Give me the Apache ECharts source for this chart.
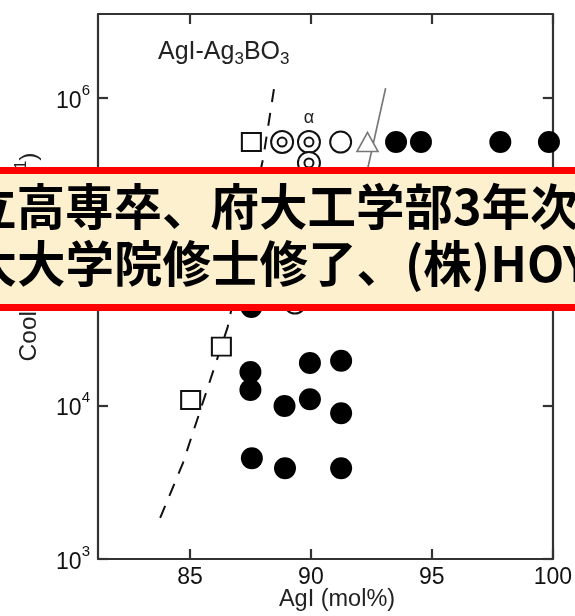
<!DOCTYPE html>
<html><head><meta charset="utf-8">
<script src="https://cdn.jsdelivr.net/npm/echarts@6/dist/echarts.min.js"></script>
<style>html,body{margin:0;padding:0;background:#fff}#c{width:575px;height:616px}</style>
</head><body><div id="c"></div>
<script>
// ---- data ----
const xTicks = [85, 90, 95, 100];
const yTicks = [1e3, 1e4, 1e5, 1e6];
const openSquares = [[87.54, 5.17e5], [86.30, 2.41e4], [85.03, 1.083e4]];
const doubleCircles = [[88.81, 5.17e5], [89.92, 5.17e5], [89.92, 3.78e5]];
const doubleCircleLabels = ['', 'α', ''];
const openCircles = [[91.23, 5.17e5], [89.34, 4.63e4]];
const openTriangles = [[92.34, 5.17e5]];
const filledCircles = [
  [93.52, 5.17e5], [94.55, 5.17e5], [97.83, 5.17e5], [99.84, 5.17e5],
  [87.54, 4.37e4],
  [87.50, 1.65e4], [87.50, 1.26e4], [89.96, 1.886e4], [91.25, 1.95e4],
  [88.91, 9.9e3], [89.96, 1.094e4], [91.25, 8.87e3],
  [87.56, 4.52e3], [88.93, 3.89e3], [91.25, 3.89e3]
];
const dashedBoundary = [[83.77, 1850], [84.71, 4210], [86.56, 3.23e4], [88.03, 4.07e5], [88.48, 1.16e6]];
const solidBoundary = [[91.92, 1.73e5], [93.09, 1.16e6]];
const bannerLine1 = '立高専卒、府大工学部3年次編入';
const bannerLine2 = '阪大大学院修士修了、(株)HOYA';

// ---- chart ----
const FONT = '"Liberation Sans", Arial, Helvetica, sans-serif';
const FRAME = '#333';
const chart = echarts.init(document.getElementById('c'), null, {renderer: 'canvas'});

function xAx(pos, showLabel) {
  return {
    type: 'value', position: pos, min: 81.2, max: 100,
    axisLine: {show: true, onZero: false, lineStyle: {color: FRAME, width: 2.2}},
    axisTick: {show: true, inside: true, length: 10, customValues: xTicks, lineStyle: {color: FRAME, width: 2.2}},
    axisLabel: {show: showLabel, customValues: xTicks, margin: 7, color: '#111', fontSize: 23, fontFamily: FONT},
    splitLine: {show: false}, minorTick: {show: false}
  };
}
function yAx(pos, showLabel) {
  return {
    type: 'log', logBase: 10, position: pos, min: 1000, max: 3.52e6,
    axisLine: {show: true, onZero: false, lineStyle: {color: FRAME, width: 2.2}},
    axisTick: {show: true, inside: true, length: 10, customValues: yTicks, lineStyle: {color: FRAME, width: 2.2}},
    axisLabel: {
      show: showLabel, customValues: yTicks, margin: 8, color: '#111',
      formatter: v => '{b|10}{s|' + Math.round(Math.log10(v)) + '}',
      rich: {
        b: {fontSize: 23, fontFamily: FONT, lineHeight: 30, verticalAlign: 'bottom', color: '#111'},
        s: {fontSize: 15, fontFamily: FONT, lineHeight: 14, verticalAlign: 'top', color: '#111'}
      }
    },
    splitLine: {show: false}, minorTick: {show: false}
  };
}

const ringStyle = {color: '#fff', borderColor: '#111', borderWidth: 2, opacity: 1};

const option = {
  backgroundColor: '#fff',
  animation: false,
  grid: {left: 98, right: 18, top: 14, bottom: 57, containLabel: false},
  xAxis: [xAx('bottom', true), xAx('top', false)],
  yAxis: [yAx('left', true), yAx('right', false)],
  title: {
    text: '{a|AgI-Ag}{s|3}{a|BO}{s|3}', left: 158, top: 40, padding: 0,
    textStyle: {
      fontWeight: 'normal',
      rich: {
        a: {fontSize: 25, fontWeight: 'normal', fontFamily: FONT, color: '#222', lineHeight: 28, verticalAlign: 'top'},
        s: {fontSize: 17, fontWeight: 'normal', fontFamily: FONT, color: '#222', lineHeight: 14, verticalAlign: 'bottom'}
      }
    }
  },
  series: [
    {type: 'line', data: dashedBoundary, symbol: 'none', silent: true,
     lineStyle: {color: '#111', width: 2, type: [13, 11]}, z: 1},
    {type: 'line', data: solidBoundary, symbol: 'none', silent: true,
     lineStyle: {color: '#777', width: 1.7}, z: 1},
    {type: 'scatter', data: openSquares, symbol: 'rect', symbolSize: [19, 18], itemStyle: ringStyle, z: 3},
    {type: 'scatter', symbol: 'circle', symbolSize: 22, itemStyle: ringStyle, z: 3,
     data: doubleCircles.map((p, i) => ({value: p, label: {show: !!doubleCircleLabels[i], formatter: doubleCircleLabels[i]}})),
     label: {position: 'top', distance: 3, fontSize: 18, fontFamily: FONT, color: '#222'}},
    {type: 'scatter', data: doubleCircles, symbol: 'circle', symbolSize: 9, itemStyle: ringStyle, z: 4},
    {type: 'scatter', data: openCircles, symbol: 'circle', symbolSize: 21, itemStyle: ringStyle, z: 3},
    {type: 'scatter', data: openTriangles, symbol: 'triangle', symbolSize: [21, 19],
     itemStyle: {color: '#fff', borderColor: '#777', borderWidth: 1.6, opacity: 1}, z: 3},
    {type: 'scatter', data: filledCircles, symbol: 'circle', symbolSize: 22, itemStyle: {color: '#000', opacity: 1}, z: 3}
  ],
  graphic: [
    {type: 'text', x: 28, y: 257, rotation: Math.PI / 2, z: 50,
     style: {text: '{a|Cooling rate (K s}{s|−1}{a|)}', align: 'center', verticalAlign: 'middle',
       rich: {a: {fontSize: 24.5, fontFamily: FONT, fill: '#222', lineHeight: 28, verticalAlign: 'bottom'},
              s: {fontSize: 16, fontFamily: FONT, fill: '#222', lineHeight: 12, verticalAlign: 'top'}}}},
    {type: 'text', x: 337, y: 600, z: 50,
     style: {text: 'AgI (mol%)', font: '23.5px ' + FONT, fill: '#222', align: 'center', verticalAlign: 'middle'}},
    {type: 'rect', z: 100, shape: {x: -20, y: 170.5, width: 620, height: 137},
     style: {fill: '#FDF0CF', stroke: '#FF0000', lineWidth: 7}},
    {type: 'text', x: -32, y: 207, z: 101,
     style: {text: bannerLine1, font: 'bold 48.5px "Noto Sans CJK JP"', fill: '#000', align: 'left', verticalAlign: 'middle'}},
    {type: 'text', x: -80, y: 264, z: 101,
     style: {text: bannerLine2, font: 'bold 48.5px "Noto Sans CJK JP"', fill: '#000', align: 'left', verticalAlign: 'middle'}}
  ]
};
chart.setOption(option);
</script>
</body></html>
